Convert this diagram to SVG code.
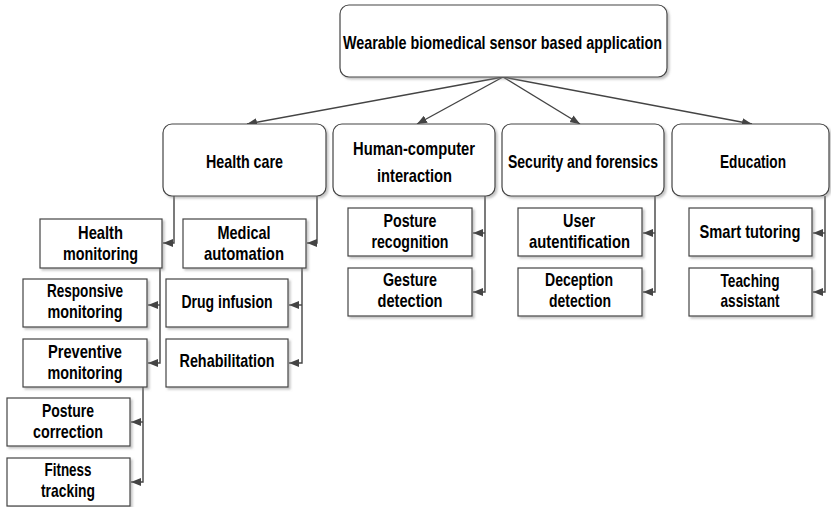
<svg xmlns="http://www.w3.org/2000/svg" width="831" height="507" viewBox="0 0 831 507">
<style>
.box{fill:#fff;stroke:#444;stroke-width:1.2;filter:url(#sh)}
.t{font-family:"Liberation Sans",Arial,sans-serif;font-weight:bold;font-size:19px;fill:#000;text-anchor:middle}
.c{fill:none;stroke:#444;stroke-width:1.4}
</style>
<defs>
<filter id="sh" x="-10%" y="-10%" width="130%" height="140%">
<feDropShadow dx="2" dy="2" stdDeviation="1" flood-color="#888" flood-opacity="0.5"/>
</filter>
<marker id="ah" markerUnits="userSpaceOnUse" markerWidth="10" markerHeight="8" refX="10" refY="4" orient="auto">
<path d="M0,0 L10,4 L0,8 z" fill="#444"/>
</marker>
</defs>

<g id="connectors">
<line class="c" x1="503" y1="77" x2="247" y2="124" marker-end="url(#ah)"/>
<line class="c" x1="503" y1="77" x2="417" y2="124" marker-end="url(#ah)"/>
<line class="c" x1="503" y1="77" x2="580" y2="124" marker-end="url(#ah)"/>
<line class="c" x1="503" y1="77" x2="752" y2="124" marker-end="url(#ah)"/>
<path class="c" d="M174,196 V243 H163" marker-end="url(#ah)"/>
<path class="c" d="M317,196 V243 H307" marker-end="url(#ah)"/>
<path class="c" d="M160,268 V363 H148" marker-end="url(#ah)"/>
<path class="c" d="M160,305 H148" marker-end="url(#ah)"/>
<path class="c" d="M302,268 V363 H289" marker-end="url(#ah)"/>
<path class="c" d="M302,305 H289" marker-end="url(#ah)"/>
<path class="c" d="M143,387 V482 H131" marker-end="url(#ah)"/>
<path class="c" d="M143,422 H131" marker-end="url(#ah)"/>
<path class="c" d="M485,196 V292 H473" marker-end="url(#ah)"/>
<path class="c" d="M485,233 H473" marker-end="url(#ah)"/>
<path class="c" d="M655,196 V292 H643" marker-end="url(#ah)"/>
<path class="c" d="M655,233 H643" marker-end="url(#ah)"/>
<path class="c" d="M825,196 V292 H813" marker-end="url(#ah)"/>
<path class="c" d="M825,233 H813" marker-end="url(#ah)"/>
</g>

<g id="root">
<rect class="box" x="340" y="5" width="327" height="72" rx="9"/>
<text class="t" x="502.5" y="49" font-size="20" textLength="319" lengthAdjust="spacingAndGlyphs">Wearable biomedical sensor based application</text>
</g>

<g id="health-care">
<rect class="box" x="163" y="124" width="163" height="72" rx="9"/>
<text class="t" x="244.5" y="168" textLength="77" lengthAdjust="spacingAndGlyphs">Health care</text>
</g>
<g id="hci">
<rect class="box" x="333" y="124" width="162" height="72" rx="9"/>
<text class="t" x="414" y="155" textLength="122" lengthAdjust="spacingAndGlyphs">Human-computer</text>
<text class="t" x="414.5" y="182" textLength="75" lengthAdjust="spacingAndGlyphs">interaction</text>
</g>
<g id="security">
<rect class="box" x="502" y="124" width="162" height="72" rx="9"/>
<text class="t" x="583" y="168" textLength="150" lengthAdjust="spacingAndGlyphs">Security and forensics</text>
</g>
<g id="education">
<rect class="box" x="672" y="124" width="157" height="72" rx="9"/>
<text class="t" x="753" y="168" textLength="66" lengthAdjust="spacingAndGlyphs">Education</text>
</g>

<g id="health-monitoring">
<rect class="box" x="40" y="219" width="122" height="49"/>
<text class="t" x="100.5" y="239" textLength="45" lengthAdjust="spacingAndGlyphs">Health</text>
<text class="t" x="100.5" y="260" textLength="75" lengthAdjust="spacingAndGlyphs">monitoring</text>
</g>
<g id="medical-automation">
<rect class="box" x="183" y="219" width="123" height="49"/>
<text class="t" x="244" y="239" textLength="53" lengthAdjust="spacingAndGlyphs">Medical</text>
<text class="t" x="244" y="260" textLength="80" lengthAdjust="spacingAndGlyphs">automation</text>
</g>
<g id="responsive-monitoring">
<rect class="box" x="23" y="279" width="124" height="48"/>
<text class="t" x="85" y="297" textLength="76" lengthAdjust="spacingAndGlyphs">Responsive</text>
<text class="t" x="85" y="318" textLength="75" lengthAdjust="spacingAndGlyphs">monitoring</text>
</g>
<g id="drug-infusion">
<rect class="box" x="166" y="279" width="122" height="48"/>
<text class="t" x="227" y="308" textLength="91" lengthAdjust="spacingAndGlyphs">Drug infusion</text>
</g>
<g id="preventive-monitoring">
<rect class="box" x="23" y="339" width="124" height="48"/>
<text class="t" x="85" y="358" textLength="74" lengthAdjust="spacingAndGlyphs">Preventive</text>
<text class="t" x="85" y="379" textLength="75" lengthAdjust="spacingAndGlyphs">monitoring</text>
</g>
<g id="rehabilitation">
<rect class="box" x="166" y="339" width="122" height="48"/>
<text class="t" x="227" y="367" textLength="95" lengthAdjust="spacingAndGlyphs">Rehabilitation</text>
</g>
<g id="posture-correction">
<rect class="box" x="7" y="398" width="123" height="48"/>
<text class="t" x="68" y="417" textLength="52" lengthAdjust="spacingAndGlyphs">Posture</text>
<text class="t" x="68" y="438" textLength="70" lengthAdjust="spacingAndGlyphs">correction</text>
</g>
<g id="fitness-tracking">
<rect class="box" x="7" y="458" width="123" height="48"/>
<text class="t" x="68" y="476" textLength="47" lengthAdjust="spacingAndGlyphs">Fitness</text>
<text class="t" x="68" y="497" textLength="54" lengthAdjust="spacingAndGlyphs">tracking</text>
</g>

<g id="posture-recognition">
<rect class="box" x="348" y="208" width="124" height="48"/>
<text class="t" x="410" y="227" textLength="53" lengthAdjust="spacingAndGlyphs">Posture</text>
<text class="t" x="410" y="248" textLength="77" lengthAdjust="spacingAndGlyphs">recognition</text>
</g>
<g id="gesture-detection">
<rect class="box" x="348" y="268" width="124" height="48"/>
<text class="t" x="410" y="286" textLength="54" lengthAdjust="spacingAndGlyphs">Gesture</text>
<text class="t" x="410" y="307" textLength="65" lengthAdjust="spacingAndGlyphs">detection</text>
</g>
<g id="user-autentification">
<rect class="box" x="518" y="208" width="124" height="48"/>
<text class="t" x="579" y="227" textLength="32" lengthAdjust="spacingAndGlyphs">User</text>
<text class="t" x="579.5" y="248" textLength="101" lengthAdjust="spacingAndGlyphs">autentification</text>
</g>
<g id="deception-detection">
<rect class="box" x="518" y="268" width="124" height="48"/>
<text class="t" x="579" y="286" textLength="68" lengthAdjust="spacingAndGlyphs">Deception</text>
<text class="t" x="580" y="307" textLength="62" lengthAdjust="spacingAndGlyphs">detection</text>
</g>
<g id="smart-tutoring">
<rect class="box" x="689" y="208" width="123" height="48"/>
<text class="t" x="750" y="238" textLength="101" lengthAdjust="spacingAndGlyphs">Smart tutoring</text>
</g>
<g id="teaching-assistant">
<rect class="box" x="689" y="268" width="123" height="48"/>
<text class="t" x="750" y="287" textLength="59" lengthAdjust="spacingAndGlyphs">Teaching</text>
<text class="t" x="750" y="307" textLength="59" lengthAdjust="spacingAndGlyphs">assistant</text>
</g>
</svg>
